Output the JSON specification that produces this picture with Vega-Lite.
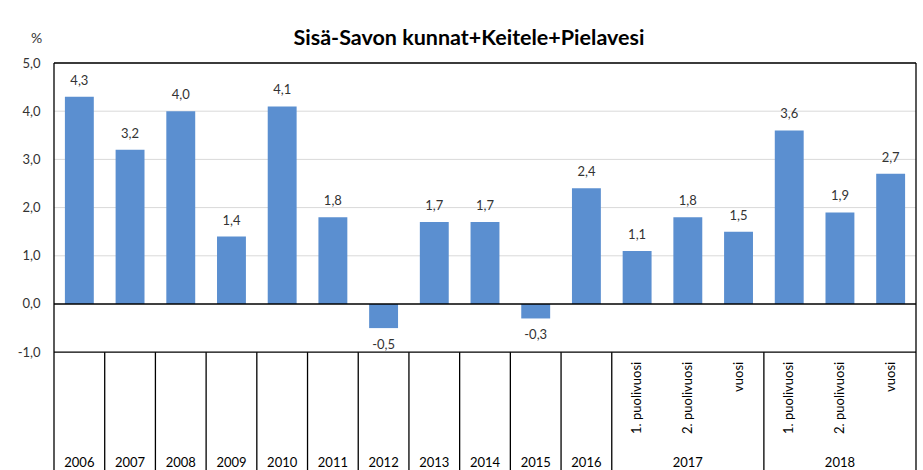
{
  "$schema": "https://vega.github.io/schema/vega-lite/v6.json",
  "width": 862,
  "height": 407,
  "autosize": {"type": "none"},
  "padding": {"left": 54, "top": 63, "right": 7, "bottom": 0},
  "background": "white",
  "config": {
    "view": {"stroke": null},
    "font": "Lato",
    "locale": {"number": {"decimal": ",", "thousands": " ", "grouping": [3], "currency": ["", " €"], "minus": "-"}}
  },
  "title": {"text": "Sisä-Savon kunnat+Keitele+Pielavesi", "font": "Lato", "fontSize": 21.5, "fontWeight": "bold", "color": "black", "anchor": "middle", "offset": 16, "dy": 34, "dx": -16},
  "datasets": {
    "bars": [
      {"key": "c01", "year": "2006", "sub": "", "v": 4.3},
      {"key": "c02", "year": "2007", "sub": "", "v": 3.2},
      {"key": "c03", "year": "2008", "sub": "", "v": 4.0},
      {"key": "c04", "year": "2009", "sub": "", "v": 1.4},
      {"key": "c05", "year": "2010", "sub": "", "v": 4.1},
      {"key": "c06", "year": "2011", "sub": "", "v": 1.8},
      {"key": "c07", "year": "2012", "sub": "", "v": -0.5},
      {"key": "c08", "year": "2013", "sub": "", "v": 1.7},
      {"key": "c09", "year": "2014", "sub": "", "v": 1.7},
      {"key": "c10", "year": "2015", "sub": "", "v": -0.3},
      {"key": "c11", "year": "2016", "sub": "", "v": 2.4},
      {"key": "c12", "year": "2017", "sub": "1. puolivuosi", "v": 1.1},
      {"key": "c13", "year": "2017", "sub": "2. puolivuosi", "v": 1.8},
      {"key": "c14", "year": "2017", "sub": "vuosi", "v": 1.5},
      {"key": "c15", "year": "2018", "sub": "1. puolivuosi", "v": 3.6},
      {"key": "c16", "year": "2018", "sub": "2. puolivuosi", "v": 1.9},
      {"key": "c17", "year": "2018", "sub": "vuosi", "v": 2.7}
    ],
    "years": [
      {"key": "c01", "label": "2006"}, {"key": "c02", "label": "2007"}, {"key": "c03", "label": "2008"},
      {"key": "c04", "label": "2009"}, {"key": "c05", "label": "2010"}, {"key": "c06", "label": "2011"},
      {"key": "c07", "label": "2012"}, {"key": "c08", "label": "2013"}, {"key": "c09", "label": "2014"},
      {"key": "c10", "label": "2015"}, {"key": "c11", "label": "2016"}, {"key": "c13", "label": "2017"},
      {"key": "c16", "label": "2018"}
    ],
    "grid": [{"y": 1}, {"y": 2}, {"y": 3}, {"y": 4}, {"y": 5}],
    "blackh": [{"y": 5}, {"y": 0}, {"y": -1}],
    "vstart": [
      {"key": "c01", "top": 5}, {"key": "c02", "top": -1}, {"key": "c03", "top": -1}, {"key": "c04", "top": -1},
      {"key": "c05", "top": -1}, {"key": "c06", "top": -1}, {"key": "c07", "top": -1}, {"key": "c08", "top": -1},
      {"key": "c09", "top": -1}, {"key": "c10", "top": -1}, {"key": "c11", "top": -1}, {"key": "c12", "top": -1},
      {"key": "c15", "top": -1}
    ],
    "vend": [{"key": "c17", "top": 5}]
  },
  "encoding": {
    "x": {
      "field": "key", "type": "nominal", "axis": null,
      "scale": {"domain": ["c01","c02","c03","c04","c05","c06","c07","c08","c09","c10","c11","c12","c13","c14","c15","c16","c17"], "paddingInner": 0, "paddingOuter": 0}
    }
  },
  "layer": [
    {
      "data": {"name": "grid"},
      "mark": {"type": "rule", "color": "#d9d9d9", "strokeWidth": 1},
      "encoding": {
        "x": null,
        "y": {
          "field": "y", "type": "quantitative",
          "scale": {"domain": [-3.444, 5], "nice": false, "zero": false},
          "axis": {
            "values": [-1, 0, 1, 2, 3, 4, 5], "format": ".1f", "ticks": false, "domain": false, "grid": false,
            "labelPadding": 14, "labelFontSize": 13, "labelColor": "#333333", "labelFont": "Lato",
            "title": "%", "titleAngle": 0, "titleX": -18, "titleY": -25, "titleAlign": "center", "titleBaseline": "middle",
            "titleFontWeight": "normal", "titleFontSize": 14, "titleColor": "#333333", "titleFont": "Lato"
          }
        }
      }
    },
    {
      "data": {"name": "bars"},
      "mark": {"type": "bar", "color": "#5b8fd0", "width": {"band": 0.57}},
      "encoding": {
        "y": {"field": "v", "type": "quantitative"},
        "y2": {"datum": 0}
      }
    },
    {
      "data": {"name": "blackh"},
      "mark": {"type": "rule", "color": "black", "strokeWidth": 1.3},
      "encoding": {"x": null, "y": {"field": "y", "type": "quantitative"}}
    },
    {
      "data": {"name": "vstart"},
      "mark": {"type": "rule", "color": "black", "strokeWidth": 1.3},
      "encoding": {
        "x": {"field": "key", "type": "nominal", "bandPosition": 0},
        "y": {"field": "top", "type": "quantitative"},
        "y2": {"datum": -3.444}
      }
    },
    {
      "data": {"name": "vend"},
      "mark": {"type": "rule", "color": "black", "strokeWidth": 1.3},
      "encoding": {
        "x": {"field": "key", "type": "nominal", "bandPosition": 1},
        "y": {"field": "top", "type": "quantitative"},
        "y2": {"datum": -3.444}
      }
    },
    {
      "data": {"name": "bars"},
      "transform": [{"filter": "datum.v >= 0"}],
      "mark": {"type": "text", "fontSize": 13, "color": "#333333", "baseline": "middle", "dy": -16},
      "encoding": {
        "y": {"field": "v", "type": "quantitative"},
        "text": {"field": "v", "type": "quantitative", "format": ".1f"}
      }
    },
    {
      "data": {"name": "bars"},
      "transform": [{"filter": "datum.v < 0"}],
      "mark": {"type": "text", "fontSize": 13, "color": "#333333", "baseline": "middle", "dy": 17},
      "encoding": {
        "y": {"field": "v", "type": "quantitative"},
        "text": {"field": "v", "type": "quantitative", "format": ".1f"}
      }
    },
    {
      "data": {"name": "bars"},
      "mark": {"type": "text", "fontSize": 13, "color": "black", "angle": 270, "align": "right", "baseline": "middle"},
      "encoding": {
        "y": {"datum": -1.2},
        "text": {"field": "sub", "type": "nominal"}
      }
    },
    {
      "data": {"name": "years"},
      "mark": {"type": "text", "fontSize": 13, "color": "black", "baseline": "middle"},
      "encoding": {
        "y": {"datum": -3.29},
        "text": {"field": "label", "type": "nominal"}
      }
    }
  ]
}
